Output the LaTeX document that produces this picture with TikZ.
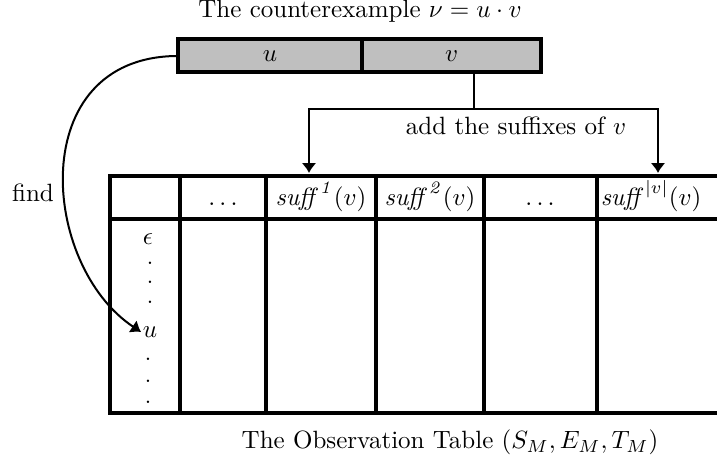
\documentclass[tikz,border=0pt]{standalone}
\usetikzlibrary{arrows.meta}
\begin{document}
\begin{tikzpicture}[x=0.4pt,y=-0.4pt,
  thickl/.style={line width=1.6pt},
  thinl/.style={line width=0.8pt},
  conn/.style={line width=0.8pt,-{Latex[length=4pt,width=6pt]}},
  cellbox/.style={draw,line width=1.6pt,fill=lightgray,minimum height=13.2pt,inner sep=0pt},
  lbl/.style={inner sep=0.5pt},
  hdr/.style={inner sep=0.5pt,anchor=base},
  dotlbl/.style={inner sep=0pt,font=\small}]
\useasboundingbox (0,0) rectangle (717,466);
\clip (0,0) rectangle (717,466);
% title
\node[hdr] (title) at (360,18) {The counterexample $\nu = u\cdot v$};
% counterexample boxes
\node[cellbox,minimum width=73.6pt] (u) at (270,56) {$u$};
\node[cellbox,minimum width=71.6pt] (v) at (451.5,56) {$v$};
% table grid
\draw[thickl] (110,176) rectangle (740,413);
\draw[thickl] (110,219) -- (740,219);
\foreach \x in {180,266,376,484,597} \draw[thickl] (\x,176) -- (\x,413);
\coordinate (top) at (0,173);
% header texts
\node[hdr] (h1) at (223,205) {$\ldots$};
\node[hdr] (s1) at (321,205) {$\mathit{suff}^{\mathit{1}}(v)$};
\node[hdr] (s2) at (430,205) {$\mathit{suff}^{\mathit{2}}(v)$};
\node[hdr] (h2) at (540,205) {$\ldots$};
\node[hdr] (sv) at (651,205) {$\mathit{suff}^{|v|}(v)$};
% row labels
\node[lbl] (eps) at (148,239) {$\epsilon$};
\node[dotlbl] (d1) at (150,263) {.};
\node[dotlbl] (d2) at (150,282) {.};
\node[dotlbl] (d3) at (150,302) {.};
\node[lbl] (uu) at (150,332) {$u$};
\node[dotlbl] (d4) at (148,359) {.};
\node[dotlbl] (d5) at (148,381) {.};
\node[dotlbl] (d6) at (148,402) {.};
% suffix connectors
\coordinate (j) at (474,109);
\coordinate (a1) at (309,109);
\coordinate (a2) at (658,109);
\draw[thinl] (v.south -| j) -- (j);
\draw[conn] (j) -- (a1) -- (a1 |- top);
\draw[conn] (j) -- (a2) -- (a2 |- top);
\node[lbl] (add) at (516,126) {add the suffixes of $v$};
% find connector
\draw[conn] (u.west) .. controls (25,58) and (40,265) .. (uu.west);
\node[lbl] (find) at (33,193) {find};
% caption
\node[lbl] (cap) at (450,442) {The Observation Table $(S_M,E_M,T_M)$};
\end{tikzpicture}
\end{document}
